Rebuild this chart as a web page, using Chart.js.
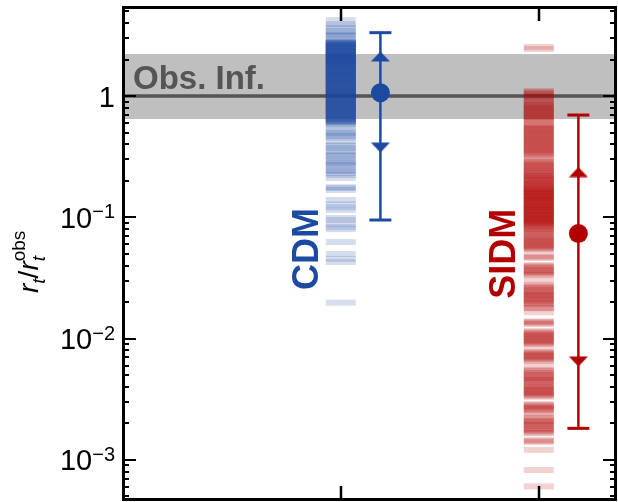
<!DOCTYPE html>
<html>
<head>
<meta charset="utf-8">
<script src="https://cdn.jsdelivr.net/npm/chart.js@4.4.1/dist/chart.umd.min.js"></script>
<style>
  html, body { margin: 0; padding: 0; background: #fff; }
  canvas { display: block; }
</style>
</head>
<body>
<canvas id="grafico" width="618" height="502"></canvas>
<script>
const modelos = ["CDM", "SIDM"];
const posicionModelo = [1, 2];

// r_t / r_t^obs de cada muestra (una raya por muestra)
const cdmRt = [
  4.23, 3.92, 3.78, 3.64, 3.43, 3.37, 3.24, 3.18, 3.12, 2.96, 2.84,
  2.80, 2.78, 2.76, 2.74, 2.73, 2.70, 2.68, 2.66, 2.65, 2.61, 2.58, 2.57, 2.55, 2.53, 2.50,
  2.49, 2.47, 2.45, 2.43, 2.41, 2.39, 2.37, 2.36, 2.33, 2.30, 2.29, 2.27, 2.25, 2.23, 2.21,
  2.19, 2.18, 2.17, 2.14, 2.12, 2.11, 2.10, 2.07, 2.05, 2.04, 2.03, 2.00, 1.98, 1.96, 1.95,
  1.93, 1.92, 1.89, 1.88, 1.87, 1.85, 1.82, 1.81, 1.79, 1.78, 1.76, 1.74, 1.72, 1.71, 1.70,
  1.68, 1.66, 1.64, 1.63, 1.62, 1.60, 1.58, 1.56, 1.55, 1.54, 1.52, 1.50, 1.49, 1.48, 1.47,
  1.45, 1.43, 1.42, 1.41, 1.40, 1.38, 1.36, 1.35, 1.34, 1.33, 1.31, 1.30, 1.29, 1.28, 1.26,
  1.25, 1.23, 1.22, 1.21, 1.20, 1.18, 1.17, 1.16, 1.15, 1.14, 1.12, 1.11, 1.10, 1.09, 1.08,
  1.07, 1.06, 1.05, 1.04, 1.03, 1.02, 1.01, 1.00, 0.99, 0.985, 0.97, 0.96, 0.95, 0.94, 0.935,
  0.925, 0.91, 0.90, 0.89, 0.88, 0.875, 0.865, 0.855, 0.845, 0.84, 0.83, 0.82, 0.81, 0.80,
  0.79, 0.79, 0.78, 0.77, 0.76, 0.75, 0.75, 0.74, 0.73, 0.72, 0.71, 0.71, 0.70, 0.69, 0.68,
  0.68, 0.67, 0.66, 0.655, 0.645, 0.64, 0.635, 0.625, 0.62, 0.615, 0.61, 0.60,
  0.588, 0.566, 0.534, 0.505, 0.496, 0.477, 0.468, 0.450, 0.426, 0.394, 0.387, 0.372, 0.352,
  0.345, 0.326, 0.320, 0.308, 0.291, 0.285, 0.276, 0.270, 0.259, 0.245, 0.241, 0.232, 0.223,
  0.211, 0.177, 0.1745, 0.168, 0.139, 0.128, 0.121, 0.115, 0.0988, 0.095, 0.088, 0.083,
  0.080, 0.0625, 0.0498, 0.0454, 0.0428, 0.0198
];
const sidmRt = [
  2.54, 2.44,
  1.10, 1.079, 1.058, 1.039, 1.0, 0.981, 0.963, 0.927, 0.910, 0.876, 0.859, 0.843, 0.827,
  0.811, 0.796, 0.781, 0.767, 0.752, 0.738, 0.724, 0.711, 0.697, 0.684, 0.671, 0.659, 0.646,
  0.634, 0.622,
  0.588, 0.577, 0.566, 0.555, 0.545, 0.534, 0.525, 0.514, 0.505, 0.496, 0.486, 0.477, 0.468,
  0.459, 0.450, 0.442, 0.434, 0.426, 0.418, 0.410, 0.402, 0.394, 0.387, 0.380, 0.372, 0.366,
  0.359, 0.352, 0.345, 0.339, 0.332, 0.326, 0.314, 0.303,
  0.291, 0.285, 0.280, 0.276, 0.270, 0.265, 0.259, 0.255, 0.250, 0.245, 0.241, 0.237, 0.232,
  0.228, 0.223, 0.219, 0.219, 0.215, 0.211, 0.207, 0.205, 0.203, 0.199, 0.1955, 0.192, 0.190,
  0.188, 0.1846, 0.183, 0.181, 0.178,
  0.174, 0.172, 0.171, 0.169, 0.167, 0.165, 0.164, 0.162, 0.160, 0.158, 0.157, 0.156, 0.153,
  0.151, 0.150, 0.149, 0.147, 0.145, 0.144, 0.143, 0.141, 0.139, 0.138, 0.137, 0.135, 0.133,
  0.132, 0.131, 0.129, 0.127, 0.126, 0.125, 0.123, 0.122, 0.121, 0.120, 0.118, 0.117, 0.116,
  0.115, 0.113, 0.112, 0.111, 0.110, 0.108, 0.107, 0.106, 0.105, 0.104, 0.103, 0.102, 0.100,
  0.099, 0.0985, 0.097, 0.096, 0.0955, 0.094, 0.093, 0.0925, 0.0915, 0.090, 0.089, 0.0885,
  0.087, 0.086, 0.0845, 0.083, 0.082,
  0.0802, 0.0786, 0.0771, 0.0757, 0.0736, 0.0727, 0.0701, 0.0688, 0.0675, 0.0662, 0.0650,
  0.0638, 0.0625, 0.0613, 0.0602, 0.0591, 0.0580, 0.0569, 0.0558, 0.0547, 0.0537, 0.0480,
  0.0471, 0.0462, 0.0404, 0.0397, 0.0389, 0.0382, 0.0368, 0.0361, 0.0354, 0.0347, 0.0341,
  0.0334, 0.0304, 0.0277, 0.0271, 0.0266, 0.0261, 0.0252, 0.0247, 0.0242, 0.0238, 0.0233,
  0.0229, 0.0225, 0.0221, 0.0216, 0.0212, 0.0208, 0.0204, 0.0200, 0.0196, 0.0193, 0.0185,
  0.0179, 0.0178, 0.0165, 0.0139, 0.0137, 0.0134, 0.0132, 0.01132, 0.0116, 0.01111, 0.01071,
  0.0109, 0.01051, 0.0103, 0.01013, 0.00994, 0.00974, 0.00956, 0.00940, 0.00921, 0.00903,
  0.00886, 0.00790, 0.00775, 0.00761, 0.00746, 0.00732, 0.00718, 0.00705, 0.00691, 0.00679,
  0.00666, 0.00654, 0.00594, 0.00551, 0.00541, 0.00531, 0.00521, 0.00501, 0.00492, 0.00483,
  0.00474, 0.00465, 0.00456, 0.00448, 0.00439, 0.00431, 0.00414, 0.00406, 0.00399, 0.00392,
  0.00384, 0.00377, 0.00370, 0.00363, 0.00356, 0.00350, 0.00343, 0.00337, 0.00331, 0.00289,
  0.00284, 0.00279, 0.00273, 0.00268, 0.00263, 0.00258, 0.00253, 0.00240, 0.00226, 0.00222,
  0.00213, 0.00209, 0.00205, 0.00201, 0.00197, 0.00194, 0.00190, 0.00183, 0.00180, 0.00176,
  0.00173, 0.00168, 0.00166, 0.00146, 0.00143, 0.00140, 0.00121, 0.000826, 0.000605
];

// [cota inferior, -1 sigma, mediana, +1 sigma, cota superior]
const cdmResumen = [0.095, 0.376, 1.065, 2.12, 3.33];
const sidmResumen = [0.00182, 0.00648, 0.0735, 0.236, 0.697];

const obsBanda = [0.646, 2.22];
const obsValor = 1;

const yTicks = [0.001, 0.01, 0.1, 1];
const yTickBase = ["10", "10", "10", "1"];
const yTickExp = ["\u22123", "\u22122", "\u22121", ""];
const yMenores = [2, 3, 4, 5, 6, 7, 8, 9];

const azul = "rgb(28, 74, 160)";
const rojo = "rgb(178, 0, 0)";
const azulRaya = "rgba(28, 74, 160, 0.18)";
const rojoRaya = "rgba(178, 0, 0, 0.18)";
const fuente = '"Liberation Sans", Arial, sans-serif';

const X_MIN = -0.1, X_MAX = 2.39;
const DESPLAZA_BARRA = 0.2;

function triangulo(color, arriba) {
  const c = document.createElement("canvas");
  c.width = 20;
  c.height = 11;
  const g = c.getContext("2d");
  g.fillStyle = color;
  g.beginPath();
  if (arriba) {
    g.moveTo(10, 0.5); g.lineTo(19.5, 10.5); g.lineTo(0.5, 10.5);
  } else {
    g.moveTo(0.5, 0.5); g.lineTo(19.5, 0.5); g.lineTo(10, 10.5);
  }
  g.closePath();
  g.fill();
  return c;
}

function rayas(valores, xpos, color) {
  return {
    data: valores.map(v => ({ x: xpos, y: v })),
    showLine: false,
    pointStyle: "line",
    pointRadius: 15,
    pointBorderWidth: 6,
    pointBorderColor: color,
    order: 4,
  };
}

function barraError(res, xpos, color) {
  const xb = xpos + DESPLAZA_BARRA;
  return [
    {
      data: [{ x: xb, y: res[0] }, { x: xb, y: res[4] }],
      showLine: true,
      borderColor: color,
      borderWidth: 2.5,
      pointStyle: "line",
      pointRadius: 11,
      pointBorderWidth: 3,
      pointBorderColor: color,
      order: 3,
    },
    {
      data: [{ x: xb, y: res[3] }],
      showLine: false,
      pointStyle: triangulo(color, true),
      pointRadius: 10,
      order: 2,
    },
    {
      data: [{ x: xb, y: res[1] }],
      showLine: false,
      pointStyle: triangulo(color, false),
      pointRadius: 10,
      order: 2,
    },
    {
      data: [{ x: xb, y: res[2] }],
      showLine: false,
      pointStyle: "circle",
      pointRadius: 9.5,
      pointBorderWidth: 0,
      pointBackgroundColor: color,
      order: 1,
    },
  ];
}

function linea(ctx, x1, y1, x2, y2) {
  ctx.beginPath();
  ctx.moveTo(x1, y1);
  ctx.lineTo(x2, y2);
  ctx.stroke();
}

const marco = {
  id: "marco",
  afterDraw(chart) {
    const { ctx, chartArea: a } = chart;
    const x = chart.scales.x, y = chart.scales.y;
    ctx.save();
    ctx.strokeStyle = "#000";
    ctx.lineWidth = 2;
    // ticks menores
    for (let e = -4; e <= 0; e++) {
      yMenores.forEach(m => {
        const v = m * Math.pow(10, e);
        if (v < y.min || v > y.max) return;
        const py = Math.round(y.getPixelForValue(v));
        linea(ctx, a.left, py, a.left + 6, py);
        linea(ctx, a.right - 6, py, a.right, py);
      });
    }
    // ticks mayores
    yTicks.forEach(v => {
      const py = Math.round(y.getPixelForValue(v));
      linea(ctx, a.left, py, a.left + 13, py);
      linea(ctx, a.right - 13, py, a.right, py);
    });
    ctx.lineWidth = 2.5;
    posicionModelo.forEach(v => {
      const px = Math.round(x.getPixelForValue(v));
      linea(ctx, px, a.top, px, a.top + 14);
      linea(ctx, px, a.bottom - 14, px, a.bottom);
    });
    ctx.lineWidth = 3;
    ctx.strokeRect(a.left + 0.5, a.top + 0.5, a.right - a.left - 1, a.bottom - a.top - 1);

    // etiquetas del eje y
    ctx.fillStyle = "#000";
    ctx.textAlign = "right";
    ctx.textBaseline = "alphabetic";
    const derecha = a.left - 8;
    yTicks.forEach((v, i) => {
      const py = y.getPixelForValue(v);
      let ancho = 0;
      if (yTickExp[i]) {
        ctx.font = "20px " + fuente;
        ctx.fillText(yTickExp[i], derecha, py + 1);
        ancho = ctx.measureText(yTickExp[i]).width;
      }
      ctx.font = "29px " + fuente;
      ctx.fillText(yTickBase[i], derecha - ancho, py + 10.5);
    });

    // titulo del eje y: r_t / r_t^obs
    ctx.save();
    ctx.translate(38, 293);
    ctx.rotate(-Math.PI / 2);
    ctx.textAlign = "left";
    let tx = 0;
    const trozo = (txt, font, dy) => {
      ctx.font = font;
      ctx.fillText(txt, tx, dy);
      return ctx.measureText(txt).width;
    };
    tx += trozo("r", "italic 28px " + fuente, 0);
    tx += trozo("t", "italic 19px " + fuente, 7);
    tx += trozo("/", "28px " + fuente, 0);
    tx += trozo("r", "italic 28px " + fuente, 0);
    trozo("t", "italic 19px " + fuente, 7);
    trozo("obs", "19px " + fuente, -13);
    ctx.restore();

    // textos
    ctx.textAlign = "left";
    ctx.fillStyle = "rgb(85, 85, 85)";
    ctx.font = "bold 33px " + fuente;
    ctx.fillText("Obs. Inf.", a.left + 10, y.getPixelForValue(obsValor) - 7);

    const etiqueta = (txt, xv, yv, color) => {
      ctx.save();
      ctx.translate(x.getPixelForValue(xv), y.getPixelForValue(yv));
      ctx.rotate(-Math.PI / 2);
      ctx.textAlign = "center";
      ctx.fillStyle = color;
      ctx.font = "bold 36px " + fuente;
      ctx.fillText(txt, 0, 0);
      ctx.restore();
    };
    etiqueta(modelos[0], posicionModelo[0] - 0.115, 0.0548, azul);
    etiqueta(modelos[1], posicionModelo[1] - 0.12, 0.050, rojo);
    ctx.restore();
  },
};

const grafico = document.getElementById("grafico");

new Chart(grafico, {
  type: "scatter",
  data: {
    datasets: [
      {
        data: [{ x: X_MIN, y: obsBanda[1] }, { x: X_MAX, y: obsBanda[1] }],
        showLine: true,
        borderColor: "transparent",
        borderWidth: 0,
        pointRadius: 0,
        fill: { value: obsBanda[0] },
        backgroundColor: "rgb(191, 191, 191)",
        order: 6,
      },
      {
        data: [{ x: X_MIN, y: obsValor }, { x: X_MAX, y: obsValor }],
        showLine: true,
        borderColor: "rgb(85, 85, 85)",
        borderWidth: 3.5,
        pointRadius: 0,
        order: 5,
      },
      rayas(cdmRt, posicionModelo[0], azulRaya),
      rayas(sidmRt, posicionModelo[1], rojoRaya),
      ...barraError(cdmResumen, posicionModelo[0], azul),
      ...barraError(sidmResumen, posicionModelo[1], rojo),
    ],
  },
  options: {
    responsive: false,
    animation: false,
    events: [],
    layout: { autoPadding: false, padding: { left: 123, right: 2, top: 7, bottom: 2 } },
    plugins: {
      legend: { display: false },
      tooltip: { enabled: false },
    },
    scales: {
      x: { type: "linear", display: false, min: X_MIN, max: X_MAX },
      y: { type: "logarithmic", display: false, min: 4.67e-4, max: 5.42 },
    },
  },
  plugins: [marco],
});
</script>
</body>
</html>
